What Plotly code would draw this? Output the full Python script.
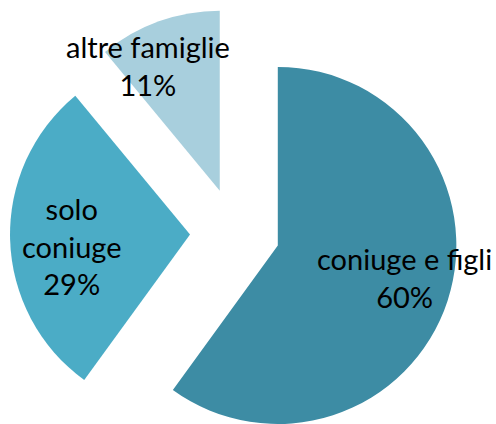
import math
import plotly.graph_objects as go

# ---- data ----
labels = ["coniuge e figli", "solo coniuge", "altre famiglie"]
label_text = ["coniuge e figli", "solo<br>coniuge", "altre famiglie"]
values = [60, 29, 11]
colors = ["#3D8CA4", "#4BACC6", "#A8CFDD"]

# ---- layout constants (pixels) ----
W, H = 496, 424
R = 180          # slice radius
PULL = 45        # explode distance
CX, CY = 235, 233  # original pie centre (screen coords, y down)
label_pos = [(404, 277), (72, 246), (148, 65)]

fig = go.Figure()
total = sum(values)
start = 0.0
for i, v in enumerate(values):
    mid = (start + v / 2) / total * 2 * math.pi  # clockwise from 12 o'clock
    start += v
    cx = CX + PULL * math.sin(mid)
    cy = CY - PULL * math.cos(mid)
    x0, x1 = (cx - R) / W, (cx + R) / W
    y0, y1 = (H - cy - R) / H, (H - cy + R) / H
    x0, x1 = max(0, x0), min(1, x1)
    y0, y1 = max(0, y0), min(1, y1)
    cols = [colors[j] if j == i else "rgba(0,0,0,0)" for j in range(len(values))]
    fig.add_trace(go.Pie(
        labels=labels, values=values, sort=False, direction="clockwise", rotation=0,
        marker=dict(colors=cols, line=dict(width=0)),
        textinfo="none", hoverinfo="skip", showlegend=False,
        domain=dict(x=[x0, x1], y=[y0, y1]),
    ))

for i, (px, py) in enumerate(label_pos):
    fig.add_annotation(
        x=px / W, y=1 - py / H, xref="paper", yref="paper",
        text=f"{label_text[i]}<br>{values[i]}%", showarrow=False,
        xanchor="center", yanchor="middle", align="center",
        font=dict(family="Lato", size=29, color="#000000"),
    )

fig.update_layout(
    width=W, height=H, margin=dict(l=0, r=0, t=0, b=0),
    paper_bgcolor="white", plot_bgcolor="white",
)
fig.write_html(
    "out.html",
    config={"displayModeBar": False},
    post_script="document.body.style.margin='0';document.body.style.overflow='hidden';",
)
